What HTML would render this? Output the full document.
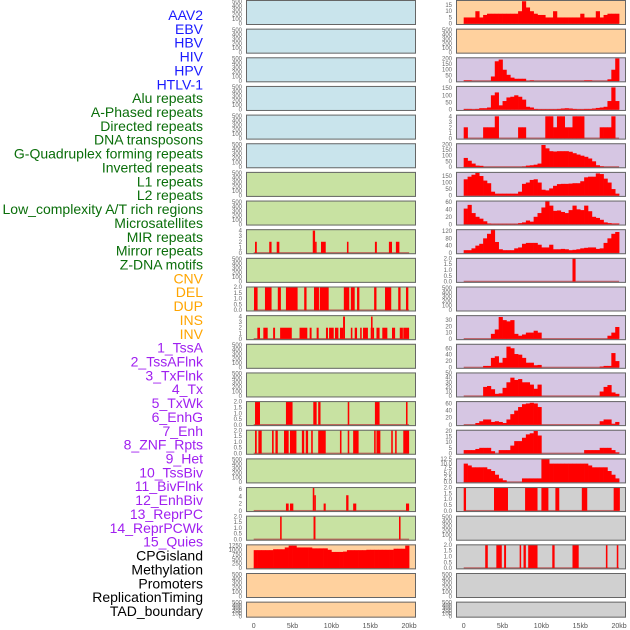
<!DOCTYPE html>
<html><head><meta charset="utf-8"><style>
html,body{margin:0;padding:0;background:#fff;}
svg{display:block;font-family:"Liberation Sans",sans-serif;}
</style></head><body>
<svg id="chart" width="630" height="630" viewBox="0 0 630 630" xmlns="http://www.w3.org/2000/svg">
<g id="labels"></g>
<g id="panels"></g>
<g id="xaxes"></g>
</svg>
<script>
// ---------- data ----------
const trackLabels=["AAV2","EBV","HBV","HIV","HPV","HTLV-1","Alu repeats","A-Phased repeats","Directed repeats","DNA transposons","G-Quadruplex forming repeats","Inverted repeats","L1 repeats","L2 repeats","Low_complexity A/T rich regions","Microsatellites","MIR repeats","Mirror repeats","Z-DNA motifs","CNV","DEL","DUP","INS","INV","1_TssA","2_TssAFlnk","3_TxFlnk","4_Tx","5_TxWk","6_EnhG","7_Enh","8_ZNF_Rpts","9_Het","10_TssBiv","11_BivFlnk","12_EnhBiv","13_ReprPC","14_ReprPCWk","15_Quies","CPGisland","Methylation","Promoters","ReplicationTiming","TAD_boundary"];
const labelGroups=["virus","virus","virus","virus","virus","virus","repeat","repeat","repeat","repeat","repeat","repeat","repeat","repeat","repeat","repeat","repeat","repeat","repeat","sv","sv","sv","sv","sv","chrom","chrom","chrom","chrom","chrom","chrom","chrom","chrom","chrom","chrom","chrom","chrom","chrom","chrom","chrom","other","other","other","other","other"];
const xTicks=[0,5,10,15,20];
const xTickLabels=["0","5kb","10kb","15kb","20kb"];
const emptyTicks=[0,100,200,300,400,500];

// binned series (0.5 kb bins, 0-20 kb)
const rAAV2=[5,5,5,10,5,7,8,8,8,8,8,8,8,8,10,18,13,10,8,7,7,5,5,10,5,5,5,5,5,5,8,5,5,5,10,5,7,8,8,8];
const rHIV=[5,5,0,0,0,0,0,40,175,190,100,55,30,20,20,20,0,5,0,0,0,0,0,0,0,0,0,0,0,0,0,5,5,0,0,0,0,15,100,200];
const rAlu=[5,5,3,5,10,10,15,100,120,30,60,85,90,100,90,70,20,15,5,3,3,3,3,3,5,8,10,8,5,3,3,5,5,8,12,15,20,60,155,60];
const rDirected=[2,0,0,0,0,2,2,2,4,0,0,0,0,0,2,2,0,0,0,0,0,4,4,2,4,4,2,2,4,4,4,0,0,0,0,2,2,2,4,0];
const rGquad=[80,55,30,12,10,0,0,0,0,0,0,0,0,0,0,3,12,15,20,30,195,165,140,137,140,140,140,135,122,110,100,90,75,50,15,5,0,0,0,0];
const rL1=[125,145,160,175,150,115,95,30,15,15,15,15,15,15,30,90,100,120,125,100,45,40,55,75,88,90,90,92,95,95,110,140,145,145,170,165,130,100,50,15];
const rLowComp=[42,52,30,20,15,8,2,1,1,1,1,1,1,1,3,5,10,7,20,30,45,63,50,36,37,33,30,38,50,40,38,50,35,20,17,12,5,3,2,2];
const rMirror=[15,15,25,40,50,80,105,130,60,20,15,15,15,25,30,50,55,55,55,45,30,30,45,20,20,22,20,15,17,20,25,28,30,30,22,25,55,80,105,115];
const rTrack11=[0,0,0,0,0,0,0,8,15,35,30,28,30,8,5,7,10,10,13,10,0,0,0,0,0,0,0,0,0,0,0,0,0,0,0,0,0,5,10,19];
const rTrack12=[0,0,0,0,0,5,5,30,35,15,30,65,60,42,40,30,15,15,7,8,0,0,0,0,0,0,0,0,0,0,0,0,0,0,0,3,5,5,45,20];
const rTrack13=[0,0,0,0,0,20,22,15,5,6,18,30,40,35,37,30,30,25,16,25,0,0,0,0,0,0,0,0,0,0,0,0,0,0,0,10,20,24,8,5];
const rTrack14=[0,0,0,5,10,15,15,8,10,8,5,15,30,40,50,58,60,62,60,50,0,0,0,0,0,0,0,0,0,0,0,0,0,0,0,10,15,15,3,8];
const rTrack15=[3,3,3,4,5,5,5,2,0,3,3,3,7,11,11,14,17,18,20,16,0,0,0,0,0,0,0,0,0,0,0,3,3,3,3,5,5,5,3,1];
const rHet=[10,9,8,8,8,8,7,6,4,2,1,0,0,0,0,2,2,2,2,2,12.5,12.5,10,10,10,10,10,10,10,10,10,10,9,8,8,8,8,6,4,2];
const lCpg=[1000,1000,1000,1000,1000,1050,1050,1050,1150,1250,1250,1150,1150,1150,1150,1100,1100,1100,1100,1020,900,900,900,920,1000,1000,1000,1000,1000,1020,1020,1020,1020,1020,1020,1020,1080,1080,1080,1250];

// sparse series: [startKb, endKb, value]
const rSpike9=[[14.0,14.4,2]];
const rBars17=[[0,0.3,2],[3.9,5.7,2],[7.9,9.5,2],[10,10.9,2],[11.8,12.3,2],[15.2,15.9,2],[19.3,20.1,2]];
const rBars19=[[2.77,3.1,2],[4.2,4.9,2],[5.2,5.45,2],[7.2,7.35,2],[7.7,8.0,2],[8.3,9.5,2],[11.4,11.7,2],[14.0,14.8,2],[18.3,18.5,2],[19.7,19.9,2]];
const lBars8=[[0.17,0.4,2],[2.0,2.3,2],[2.96,3.3,2],[7.6,7.9,4],[7.9,8.1,2],[8.66,9.27,2],[12.0,12.2,2],[15.6,15.85,2],[17.4,17.8,2],[18.3,18.75,2]];
const lBars10=[[0.04,0.5,2],[1.45,2.3,2],[3.1,3.5,2],[4.15,5.65,2],[6.5,6.8,2],[7.76,8.4,2],[8.5,9.65,2],[11.6,12.3,2],[12.5,13.0,2],[13.3,13.6,2],[15.5,15.8,2],[16.9,17.7,2],[18.6,18.9,2],[19.6,19.9,2]];
const lBars11=[[0.47,0.81,2],[1.24,1.8,2],[2.5,2.75,2],[3.4,4.9,2],[5.9,6.9,2],[7.2,7.45,2],[8.1,8.36,2],[9.3,9.56,2],[9.7,10.3,2],[10.46,10.9,2],[11.1,11.5,2],[11.5,11.75,4],[12.5,12.7,2],[13.0,13.3,2],[13.7,13.9,2],[14.07,14.7,2],[15.06,15.1,2],[15.1,15.3,4],[15.3,15.4,2],[15.8,16.2,2],[16.55,17.2,2],[17.8,18.2,2],[18.8,19.2,2],[19.25,20.0,2]];
const lBars14=[[0.17,0.81,2],[4.15,5.0,2],[7.67,8.1,2],[8.3,8.6,2],[12.1,12.3,2],[15.6,16.2,2],[19.6,19.8,2]];
const lBars15=[[0.17,0.39,2],[0.6,1.03,2],[2.36,2.57,2],[2.8,3.1,2],[3.9,4.5,2],[4.67,5.5,2],[6.2,6.5,2],[6.7,7.0,2],[7.4,7.6,2],[8.3,9.27,2],[11.1,11.3,2],[12.1,12.3,2],[12.8,13.5,2],[15.5,15.7,2],[15.8,16.3,2],[17.7,17.9,2],[18.2,18.4,2],[19.25,20.0,2]];
const lBars17=[[4.15,4.5,2],[4.67,5.1,2],[7.6,7.8,6.3],[7.8,8.0,4.3],[9.0,9.27,2],[11.9,12.2,4.3],[12.8,13.2,2],[19.6,20.0,2]];
const lBars18=[[3.4,3.6,2],[7.7,7.95,2],[18.7,18.9,2]];

const tk2=[0,0.5,1,1.5,2];
// ---------- layout ----------
const BLUE="#c9e4ec",GREEN="#c8e2a2",ORANGE="#ffd19e",LAV="#d6c6e3",GRAY="#d0d0d0";
const labelColors={virus:"#1a1aff",repeat:"#0a6e0a",sv:"#ffa500",chrom:"#a020f0",other:"#000"};
const leftBg=r=>r<6?BLUE:(r<19?GREEN:ORANGE);
const rightBg=r=>r<2?ORANGE:(r<17?LAV:GRAY);
const leftSpec={8:{sp:lBars8,ymax:4.15,t:[0,1,2,3,4]},10:{sp:lBars10,ymax:2,t:tk2,d:1},11:{sp:lBars11,ymax:4.15,t:[0,1,2,3,4]},14:{sp:lBars14,ymax:2,t:tk2,d:1},15:{sp:lBars15,ymax:2,t:tk2,d:1},17:{sp:lBars17,ymax:6.4,t:[0,2,4,6]},18:{sp:lBars18,ymax:2,t:tk2,d:1},19:{b:lCpg,ymax:1290,t:[0,250,500,750,1000,1250]}};
const rightSpec={0:{b:rAAV2,ymax:18.5,t:[0,5,10,15]},2:{b:rHIV,ymax:205,t:[0,50,100,150,200]},3:{b:rAlu,ymax:161,t:[0,50,100,150]},4:{b:rDirected,ymax:4.2,t:[0,1,2,3,4]},5:{b:rGquad,ymax:205,t:[0,50,100,150,200]},6:{b:rL1,ymax:177,t:[0,50,100,150]},7:{b:rLowComp,ymax:62,t:[0,20,40,60]},8:{b:rMirror,ymax:127,t:[0,40,80,120]},9:{sp:rSpike9,ymax:2,t:tk2,d:1},11:{b:rTrack11,ymax:37,t:[0,10,20,30]},12:{b:rTrack12,ymax:72,t:[0,20,40,60]},13:{b:rTrack13,ymax:50,t:[0,10,20,30,40,50]},14:{b:rTrack14,ymax:65,t:[0,20,40,60]},15:{b:rTrack15,ymax:20.6,t:[0,5,10,15,20]},16:{b:rHet,ymax:12.5,t:[0,2.5,5,7.5,10,12.5],d:1},17:{sp:rBars17,ymax:2,t:tk2,d:1},19:{sp:rBars19,ymax:2,t:tk2,d:1}};

const NS="http://www.w3.org/2000/svg";
function mk(tag,attrs,parent){const e=document.createElementNS(NS,tag);for(const k in attrs)e.setAttribute(k,attrs[k]);parent.appendChild(e);return e;}

// labels
const gl=document.getElementById('labels');
trackLabels.forEach((t,i)=>{
  const e=mk('text',{x:203,y:20+i*13.86,'text-anchor':'end','font-size':14,fill:labelColors[labelGroups[i]]},gl);
  
  
  e.textContent=t;
});

const gp=document.getElementById('panels');
function drawPanel(col,row){
  const px=col===0?246:456, pw=170, x0=px+7.7, kx=7.77;
  const top=row*28.65, h=row===21?16:25;
  const xs=kb=>x0+kb*kx;
  const spec=(col===0?leftSpec:rightSpec)[row];
  const g=mk('g',{},gp);
  
  
  const bg=mk('rect',{x:px,y:top,width:pw,height:h,fill:col===0?leftBg(row):rightBg(row)},g);
  
  
  const ymax=spec?spec.ymax:515;
  const yb=top+h-1.3, yt=top+0.6;
  const ys=v=>yb-(v/ymax)*(yb-yt);
  const ticks=spec?spec.t:emptyTicks;
  ticks.forEach(v=>{
    const tx=mk('text',{x:px-4,y:ys(v)+2,'text-anchor':'end','font-size':6,fill:'#666'},g);
    
    
    tx.textContent=spec&&spec.d?v.toFixed(1):String(v);
  });
  if(spec){
    const base=mk('rect',{x:xs(0),y:yb-0.8,width:xs(20)-xs(0),height:1.4,fill:'#b84040',opacity:0.75},g);
    
    
    if(spec.b){
      spec.b.forEach((v,i)=>{
        if(v<=0)return;
        const r=mk('rect',{x:xs(i*0.5),y:ys(v),width:xs(i*0.5+0.5)-xs(i*0.5)+0.3,height:yb-ys(v),fill:'#ff0000'},g);
        
        
      });
    }
    if(spec.sp){
      spec.sp.forEach(s=>{
        const r=mk('rect',{x:xs(s[0]),y:ys(s[2]),width:Math.max(1.5,xs(s[1])-xs(s[0])),height:yb-ys(s[2]),fill:'#ff0000'},g);
        
        
      });
    }
  }
  const br=mk('rect',{x:px+0.5,y:top+0.5,width:pw-1,height:h-1,fill:'none',stroke:'#666','stroke-width':1},g);
  
  
}
for(let r=0;r<22;r++){drawPanel(0,r);drawPanel(1,r);}

const gx=document.getElementById('xaxes');
[0,1].forEach(col=>{
  const x0=(col===0?246:456)+7.7;
  xTicks.forEach((k,i)=>{
    const t=mk('text',{x:x0+k*7.77,y:628,'text-anchor':'middle','font-size':7,fill:'#555'},gx);
    
    
    t.textContent=xTickLabels[i];
  });
});
</script>
</body></html>
